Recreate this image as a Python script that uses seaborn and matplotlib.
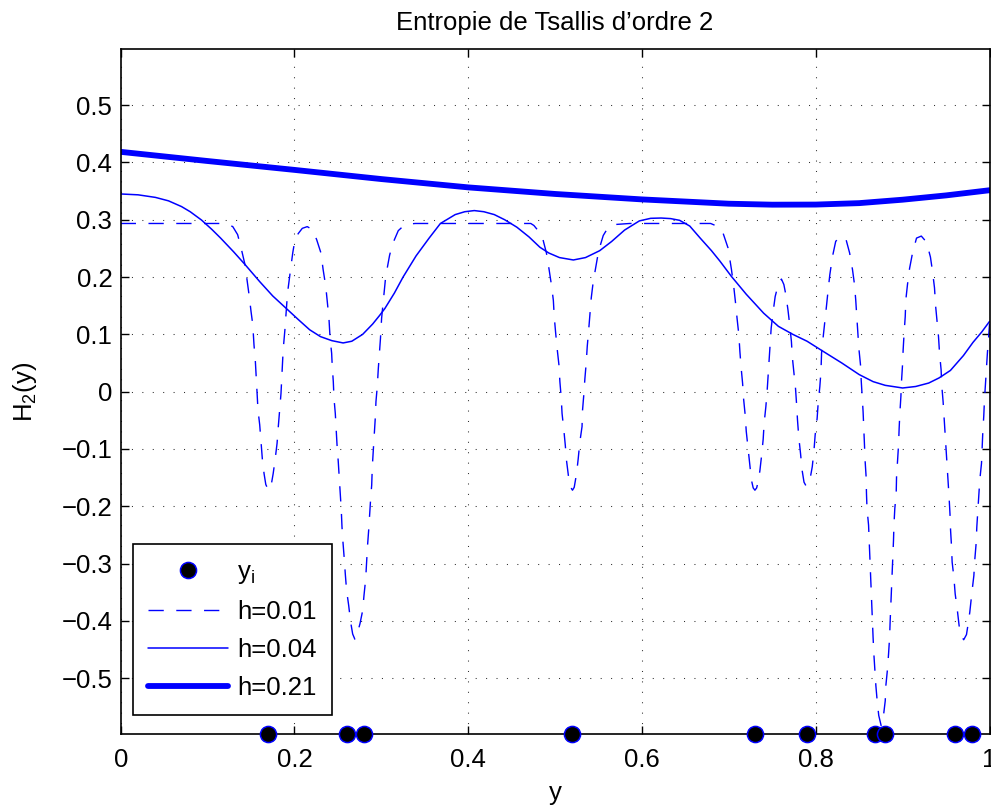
import matplotlib
matplotlib.use("Agg")
import matplotlib.pyplot as plt
import pandas as pd
import seaborn as sns
from matplotlib.lines import Line2D
from matplotlib.ticker import FixedLocator

# Sample points y_i
sample_y = [0.170, 0.260, 0.280, 0.520, 0.730, 0.790, 0.868, 0.880, 0.960, 0.980]

# H_2(y) for bandwidth h = 0.01
h001_x = [0.000, 0.121, 0.129, 0.1346, 0.139, 0.143, 0.1457, 0.148, 0.150, 0.152, 0.1534,
          0.155, 0.156, 0.157, 0.158, 0.160, 0.1615, 0.163, 0.165, 0.167, 0.170, 0.173,
          0.1755, 0.1776, 0.180, 0.1814, 0.1833, 0.1845, 0.1856, 0.187, 0.189, 0.1906,
          0.192, 0.1937, 0.196, 0.198, 0.2006, 0.2044, 0.209, 0.2147,
          0.2205, 0.2255, 0.2305, 0.233, 0.236, 0.2374, 0.2397, 0.241, 0.2428, 0.2435,
          0.2447, 0.2455, 0.247, 0.248, 0.249, 0.2504, 0.2516, 0.2527, 0.2539, 0.2547,
          0.2558, 0.2573, 0.2585, 0.260, 0.2624, 0.2647, 0.267, 0.2695, 0.272, 0.2754,
          0.2785, 0.280, 0.282, 0.283, 0.284, 0.2854, 0.2865, 0.2877, 0.2889, 0.2896,
          0.2907, 0.2918, 0.293, 0.2938, 0.2953, 0.2965, 0.299, 0.3003, 0.3026, 0.305,
          0.3095, 0.313, 0.3195, 0.3253, 0.332, 0.339,
          0.472, 0.4756, 0.481, 0.4856, 0.490, 0.493, 0.496, 0.498, 0.499, 0.5006,
          0.5025, 0.5044, 0.5055, 0.507, 0.508, 0.510, 0.5117, 0.5132, 0.5155, 0.518,
          0.520, 0.522, 0.5247, 0.5266, 0.5285, 0.531, 0.5316, 0.533, 0.5343, 0.5358,
          0.537, 0.5385, 0.540, 0.5416, 0.5438, 0.547, 0.550, 0.5554, 0.560, 0.569, 0.586,
          0.679, 0.686, 0.6928, 0.699, 0.703, 0.7058, 0.7077, 0.7096, 0.7115, 0.7127,
          0.714, 0.7158, 0.717, 0.7188, 0.720, 0.722, 0.724, 0.726, 0.728, 0.730, 0.732,
          0.734, 0.7357, 0.7376, 0.7395, 0.7406, 0.7426, 0.744, 0.7452, 0.7464, 0.7475,
          0.7487, 0.751, 0.7533, 0.757, 0.7605, 0.7633, 0.7656, 0.768, 0.770, 0.772,
          0.773, 0.775, 0.7767, 0.778, 0.779, 0.7805, 0.7825, 0.7843, 0.7865, 0.789,
          0.791, 0.7932, 0.796, 0.798, 0.7993, 0.8016, 0.8028, 0.8047, 0.806, 0.8067,
          0.8086, 0.8105, 0.8124, 0.8143, 0.8162, 0.8193, 0.823, 0.8296,
          0.8346, 0.839, 0.8423, 0.8446, 0.846, 0.8473, 0.8485, 0.8496, 0.8515, 0.8523,
          0.8534, 0.8545, 0.8553, 0.8561, 0.8569, 0.858, 0.8584, 0.859, 0.8608, 0.8615,
          0.8623, 0.863, 0.8638, 0.8646, 0.8654, 0.866, 0.8669, 0.868, 0.8692, 0.8707,
          0.8725, 0.8753, 0.878, 0.880, 0.8807, 0.8826, 0.8838, 0.885, 0.8856, 0.8864,
          0.8872, 0.888, 0.8887, 0.8895, 0.890, 0.891, 0.8926, 0.893, 0.8942, 0.8953,
          0.896, 0.8968, 0.898, 0.8987, 0.8999, 0.9006, 0.9017, 0.903, 0.9037, 0.9056,
          0.908, 0.9114, 0.916, 0.9215, 0.9275, 0.932, 0.9344, 0.9367, 0.938, 0.9397,
          0.9413, 0.9425, 0.9443, 0.945, 0.9466, 0.9477, 0.9489, 0.950, 0.9512, 0.9523,
          0.9535, 0.9545, 0.9552, 0.9562, 0.957, 0.959, 0.9605, 0.9628, 0.965, 0.9673,
          0.9703, 0.9735, 0.9754, 0.9773, 0.980, 0.982, 0.983, 0.9846, 0.9854, 0.9865,
          0.9877, 0.9888, 0.9908, 0.9915, 0.9923, 0.9934, 0.9942, 0.9954, 0.9965, 0.9977,
          0.9988, 1.000]
h001_y = [0.2935, 0.2935, 0.288, 0.274, 0.248, 0.222, 0.1925, 0.166, 0.140, 0.117, 0.082,
          0.0525, 0.023, -0.003, -0.032, -0.058, -0.0875, -0.117, -0.143, -0.162, -0.172, -0.165,
          -0.143, -0.120, -0.090, -0.061, -0.026, -0.003, 0.032, 0.073, 0.108, 0.143,
          0.172, 0.1925, 0.219, 0.242, 0.2655, 0.276, 0.285, 0.288,
          0.283, 0.2655, 0.242, 0.213, 0.184, 0.163, 0.128, 0.093, 0.067, 0.044,
          0.0175, -0.0116, -0.038, -0.067, -0.093, -0.122, -0.152, -0.181, -0.207, -0.236,
          -0.262, -0.2915, -0.318, -0.347, -0.373, -0.4025, -0.423, -0.432, -0.424, -0.405,
          -0.382, -0.356, -0.3266, -0.2975, -0.271, -0.242, -0.216, -0.1866, -0.163, -0.131,
          -0.105, -0.076, -0.0466, -0.0175, 0.0087, 0.040, 0.093, 0.128, 0.163, 0.201,
          0.238, 0.258, 0.281, 0.289, 0.2925, 0.2935,
          0.2935, 0.290, 0.280, 0.268, 0.242, 0.214, 0.184, 0.159, 0.131, 0.103,
          0.073, 0.047, 0.0175, -0.0098, -0.038, -0.066, -0.093, -0.121, -0.149, -0.167,
          -0.172, -0.167, -0.143, -0.117, -0.0875, -0.061, -0.032, -0.006, 0.023, 0.050,
          0.079, 0.105, 0.134, 0.1635, 0.191, 0.219, 0.245, 0.2725, 0.284, 0.2917, 0.2935,
          0.2935, 0.289, 0.279, 0.251, 0.213, 0.181, 0.1547, 0.1255, 0.099, 0.070,
          0.0437, 0.0147, -0.0133, -0.041, -0.069, -0.097, -0.125, -0.1545, -0.168, -0.172, -0.168,
          -0.155, -0.138, -0.1125, -0.083, -0.055, -0.026, 0.000, 0.029, 0.0555, 0.0847,
          0.111, 0.140, 0.166, 0.188, 0.1965, 0.187, 0.169, 0.143, 0.117, 0.0875,
          0.061, 0.032, 0.006, -0.023, -0.0495, -0.080, -0.108, -0.137, -0.158, -0.165,
          -0.161, -0.1545, -0.131, -0.102, -0.076, -0.0466, -0.020, 0.0087, 0.035, 0.067,
          0.096, 0.1225, 0.150, 0.178, 0.204, 0.236, 0.2625, 0.271,
          0.267, 0.242, 0.213, 0.187, 0.1605, 0.131, 0.102, 0.076, 0.047, 0.0205,
          -0.0087, -0.035, -0.064, -0.093, -0.1225, -0.149, -0.178, -0.204, -0.233, -0.2595,
          -0.289, -0.318, -0.344, -0.373, -0.4025, -0.429, -0.458, -0.484, -0.513, -0.5395,
          -0.565, -0.583, -0.565, -0.5395, -0.513, -0.484, -0.458, -0.429, -0.4025, -0.373,
          -0.344, -0.318, -0.289, -0.2595, -0.233, -0.204, -0.178, -0.149, -0.1195, -0.093,
          -0.064, -0.038, -0.0087, 0.0175, 0.047, 0.073, 0.102, 0.131, 0.1605, 0.187,
          0.215, 0.242, 0.268, 0.2715, 0.261, 0.235, 0.210, 0.181, 0.149, 0.1225,
          0.096, 0.067, 0.038, 0.0117, -0.0175, -0.044, -0.073, -0.099, -0.128, -0.155,
          -0.185, -0.213, -0.242, -0.268, -0.2975, -0.324, -0.353, -0.379, -0.408, -0.426,
          -0.433, -0.424, -0.4053, -0.385, -0.347, -0.321, -0.2945, -0.265, -0.236, -0.210,
          -0.181, -0.1545, -0.125, -0.099, -0.070, -0.0425, -0.0145, 0.0147, 0.041, 0.070,
          0.0905, 0.118]

# H_2(y) for bandwidth h = 0.04
h004_x = [0.000, 0.020, 0.040, 0.055, 0.070, 0.080, 0.093, 0.105, 0.115, 0.130, 0.143,
          0.160, 0.175, 0.190, 0.205, 0.2175, 0.230, 0.243, 0.256, 0.266, 0.2785, 0.290,
          0.298, 0.304, 0.315, 0.325, 0.340, 0.355, 0.368, 0.385, 0.396, 0.407, 0.418,
          0.430, 0.442, 0.456, 0.470, 0.4825, 0.4927, 0.505, 0.521, 0.535, 0.5513, 0.565,
          0.580, 0.597, 0.610, 0.622, 0.633, 0.6433, 0.655, 0.667, 0.680, 0.6896, 0.703,
          0.720, 0.740, 0.757, 0.7736, 0.790, 0.808, 0.830, 0.850, 0.866, 0.880, 0.900,
          0.915, 0.930, 0.942, 0.955, 0.970, 0.981, 0.991, 1.000]
h004_y = [0.345, 0.3435, 0.339, 0.333, 0.323, 0.314, 0.2995, 0.283, 0.268, 0.244, 0.222,
          0.192, 0.167, 0.146, 0.125, 0.108, 0.096, 0.089, 0.085, 0.088, 0.100, 0.118,
          0.133, 0.145, 0.172, 0.200, 0.237, 0.268, 0.2935, 0.309, 0.314, 0.316, 0.314,
          0.309, 0.300, 0.287, 0.270, 0.252, 0.242, 0.234, 0.2298, 0.234, 0.246, 0.262,
          0.282, 0.298, 0.3025, 0.303, 0.302, 0.299, 0.289, 0.268, 0.246, 0.228, 0.201,
          0.170, 0.137, 0.114, 0.100, 0.088, 0.0708, 0.050, 0.0298, 0.0175, 0.011, 0.0064,
          0.009, 0.015, 0.024, 0.037, 0.063, 0.086, 0.104, 0.1225]

# H_2(y) for bandwidth h = 0.21
h021_x = [0.0, 0.1, 0.2, 0.3, 0.4, 0.5, 0.6, 0.7, 0.75, 0.8, 0.85, 0.9, 0.95, 1.0]
h021_y = [0.4185, 0.4025, 0.387, 0.371, 0.3565, 0.345, 0.3355, 0.328, 0.3263, 0.3265,
          0.329, 0.335, 0.3425, 0.3515]

x_ticks = [0, 0.2, 0.4, 0.6, 0.8, 1]
x_tick_labels = ["0", "0.2", "0.4", "0.6", "0.8", "1"]
y_ticks = [-0.5, -0.4, -0.3, -0.2, -0.1, 0, 0.1, 0.2, 0.3, 0.4, 0.5]
y_tick_labels = ["\u22120.5", "\u22120.4", "\u22120.3", "\u22120.2", "\u22120.1", "0",
                 "0.1", "0.2", "0.3", "0.4", "0.5"]

Y_MIN, Y_MAX = -0.598, 0.598
FS = 18.5
BLUE = (0, 0, 1)
DASHES = (11, 9)

sns.set_theme(style="ticks")
plt.rcParams["font.family"] = ["Liberation Sans", "DejaVu Sans"]
plt.rcParams["mathtext.default"] = "regular"
for key in ("text.color", "axes.labelcolor", "xtick.color", "ytick.color",
            "axes.edgecolor"):
    plt.rcParams[key] = "black"

fig = plt.figure(figsize=(9.91, 8.05), dpi=100)
ax = fig.add_axes([0.1218, 0.08783, 0.87669, 0.85130])

sns.lineplot(x=h001_x, y=h001_y, ax=ax, color=BLUE, lw=1.0,
             estimator=None, sort=False, zorder=3)
ax.lines[-1].set_dashes(DASHES)
sns.lineplot(x=h004_x, y=h004_y, ax=ax, color=BLUE, lw=1.1,
             estimator=None, sort=False, zorder=3)
sns.lineplot(x=h021_x, y=h021_y, ax=ax, color=BLUE, lw=4.2,
             estimator=None, sort=False, zorder=3)

pts = pd.DataFrame({"y": sample_y, "h": [Y_MIN] * len(sample_y)})
sns.scatterplot(data=pts, x="y", y="h", ax=ax, s=135, color="black",
                edgecolor=BLUE, linewidth=1.1, zorder=6, legend=False)
ax.collections[-1].set_clip_on(False)

ax.set_xlim(0, 1)
ax.set_ylim(Y_MIN, Y_MAX)
ax.xaxis.set_major_locator(FixedLocator(x_ticks))
ax.yaxis.set_major_locator(FixedLocator(y_ticks))
ax.set_xticklabels(x_tick_labels)
ax.set_yticklabels(y_tick_labels)
ax.tick_params(axis="both", direction="in", length=5.8, width=1.0, labelsize=FS,
               top=True, right=True, colors="black")
ax.tick_params(axis="x", pad=10)
ax.tick_params(axis="y", pad=6)

ax.grid(True, color="#303030", linestyle=(0, (1, 9)), linewidth=0.75)
for sp in ax.spines.values():
    sp.set_visible(True)
    sp.set_color("black")
    sp.set_linewidth(1.2)
    sp.set_zorder(5)

ax.set_title("Entropie de Tsallis d\u2019ordre 2", fontsize=FS, pad=14, color="black")
ax.set_xlabel("y", fontsize=FS, labelpad=6)
ax.set_ylabel("H$_2$(y)", fontsize=FS, labelpad=16)

handles = [
    Line2D([], [], linestyle="none", marker="o", markersize=11.6,
           markerfacecolor="black", markeredgecolor=BLUE, markeredgewidth=1.1),
    Line2D([], [], color=BLUE, lw=1.0, dashes=DASHES),
    Line2D([], [], color=BLUE, lw=1.1),
    Line2D([], [], color=BLUE, lw=4.2),
]
labels = ["y$_i$", "h=0.01", "h=0.04", "h=0.21"]
leg = ax.legend(handles, labels, loc="lower left", bbox_to_anchor=(0.0138, 0.0277),
                borderaxespad=0, frameon=True, fancybox=False, edgecolor="black",
                framealpha=1, fontsize=FS, handlelength=3.1, handletextpad=0.35,
                labelspacing=0.55, borderpad=0.6)
leg.get_frame().set_linewidth(1.2)
leg.set_zorder(10)

fig.savefig("out.png", dpi=100)
